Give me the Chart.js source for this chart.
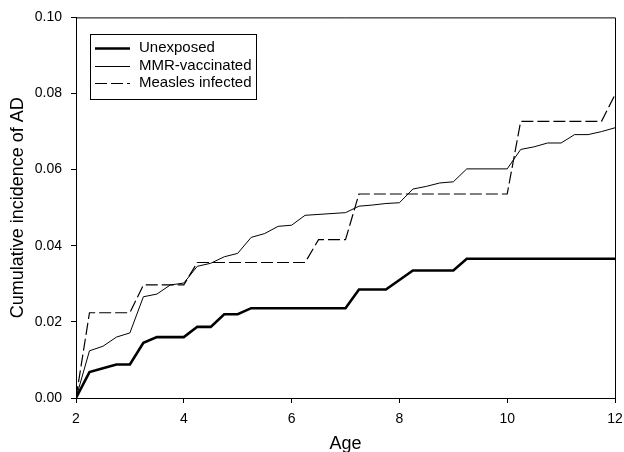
<!DOCTYPE html>
<html>
<head>
<meta charset="utf-8">
<script src="https://cdn.jsdelivr.net/npm/chart.js@4.4.0/dist/chart.umd.min.js"></script>
<style>
  html, body { margin: 0; padding: 0; background: #fff; }
  #wrap { width: 624px; height: 452px; }
</style>
</head>
<body>
<div id="wrap"><canvas id="myChart"></canvas></div>
<script>
// values (age in years, cumulative incidence)
var unexposedAge = [2, 2.25, 2.5, 2.75, 3, 3.25, 3.5, 4, 4.25, 4.5, 4.75, 5, 5.25, 7, 7.25, 7.75, 8.25, 9, 9.25, 12];
var unexposedInc = [0, 0.0068, 0.0078, 0.0088, 0.0088, 0.0145, 0.016, 0.016, 0.0187, 0.0187, 0.022, 0.022, 0.0236, 0.0236, 0.0285, 0.0285, 0.0335, 0.0335, 0.0366, 0.0366];

var mmrAge = [2, 2.25, 2.5, 2.75, 3, 3.25, 3.5, 3.75, 4, 4.25, 4.5, 4.75, 5, 5.25, 5.5, 5.75, 6, 6.25, 7, 7.25, 7.5, 7.75, 8, 8.25, 8.5, 8.75, 9, 9.25, 10, 10.25, 10.5, 10.75, 11, 11.25, 11.5, 11.75, 12];
var mmrInc = [0, 0.0124, 0.0136, 0.016, 0.0171, 0.0266, 0.0273, 0.0297, 0.0302, 0.0346, 0.0354, 0.0371, 0.038, 0.0422, 0.0432, 0.0451, 0.0454, 0.048, 0.0487, 0.0504, 0.0507, 0.0511, 0.0513, 0.0549, 0.0556, 0.0565, 0.0568, 0.0602, 0.0602, 0.0653, 0.066, 0.067, 0.067, 0.0692, 0.0692, 0.07, 0.071];

var measlesAge = [2, 2.25, 3, 3.25, 4, 4.25, 6.25, 6.5, 7, 7.25, 10, 10.25, 11.75, 12];
var measlesInc = [0, 0.0224, 0.0224, 0.0297, 0.0297, 0.0356, 0.0356, 0.0416, 0.0416, 0.0536, 0.0536, 0.0727, 0.0727, 0.0797];

var seriesNames = ["Unexposed", "MMR-vaccinated", "Measles infected"];
var yTicks = [0, 0.02, 0.04, 0.06, 0.08, 0.10];
var xTicks = [2, 4, 6, 8, 10, 12];

function pairs(xs, ys) {
  return xs.map(function (x, i) { return { x: x, y: ys[i] }; });
}

Chart.defaults.font.family = "'Liberation Sans', Arial, sans-serif";
Chart.defaults.color = "#000";

// box round the plot and the legend inside it
var framePlugin = {
  id: "frame",
  afterDatasetsDraw: function (chart) {
    var c = chart.ctx, a = chart.chartArea;
    c.save();
    c.strokeStyle = "#000";
    c.lineWidth = 1;
    c.beginPath();
    c.moveTo(a.left, a.top + 0.5);
    c.lineTo(a.right + 0.5, a.top + 0.5);
    c.lineTo(a.right + 0.5, a.bottom);
    c.stroke();

    // legend
    c.strokeRect(90.5, 34.5, 166, 65);
    var rows = [48, 66, 83];
    c.font = "15px 'Liberation Sans', Arial, sans-serif";
    c.textBaseline = "middle";
    c.fillStyle = "#000";
    chart.data.datasets.forEach(function (ds, i) {
      c.beginPath();
      c.lineWidth = ds.borderWidth;
      c.setLineDash(ds.borderDash || []);
      c.moveTo(95, rows[i] + 0.5);
      c.lineTo(130, rows[i] + 0.5);
      c.stroke();
      c.setLineDash([]);
      c.fillText(ds.label, 139, rows[i]);
    });
    c.restore();
  }
};

var ctx = document.getElementById("myChart").getContext("2d");
var myChart = new Chart(ctx, {
  type: "line",
  data: {
    datasets: [{
      label: seriesNames[0],
      data: pairs(unexposedAge, unexposedInc),
      borderColor: "#000",
      borderWidth: 2.6,
      pointRadius: 0,
      tension: 0
    }, {
      label: seriesNames[1],
      data: pairs(mmrAge, mmrInc),
      borderColor: "#000",
      borderWidth: 1,
      pointRadius: 0,
      tension: 0
    }, {
      label: seriesNames[2],
      data: pairs(measlesAge, measlesInc),
      borderColor: "#000",
      borderWidth: 1.2,
      borderDash: [12, 4],
      pointRadius: 0,
      tension: 0
    }]
  },
  options: {
    responsive: true,
    maintainAspectRatio: false,
    animation: false,
    layout: { padding: { left: 0, top: 17, right: 9, bottom: 0 } },
    plugins: {
      legend: { display: false },
      tooltip: { enabled: false }
    },
    scales: {
      x: {
        type: "linear",
        min: 2,
        max: 12,
        afterBuildTicks: function (s) { s.ticks = xTicks.map(function (v) { return { value: v }; }); },
        afterFit: function (s) { s.height = 54; s.paddingRight = 0; },
        ticks: { font: { size: 14 }, padding: 8, color: "#000" },
        grid: { drawOnChartArea: false, drawTicks: true, tickLength: 5, tickColor: "#000" },
        border: { display: true, color: "#000", width: 1 },
        title: { display: true, text: "Age", font: { size: 18, lineHeight: 0.85 }, padding: { top: 0, bottom: 0 }, color: "#000" }
      },
      y: {
        min: 0,
        max: 0.1,
        afterBuildTicks: function (s) { s.ticks = yTicks.map(function (v) { return { value: v }; }); },
        afterFit: function (s) { s.width = 76; },
        ticks: {
          font: { size: 14 },
          padding: 9,
          color: "#000",
          callback: function (v) { return Number(v).toFixed(2); }
        },
        grid: { drawOnChartArea: false, drawTicks: true, tickLength: 5, tickColor: "#000" },
        border: { display: true, color: "#000", width: 1 },
        title: { display: true, text: "Cumulative incidence of AD", font: { size: 18, lineHeight: 1 }, padding: { top: 9, bottom: 0 }, color: "#000" }
      }
    }
  },
  plugins: [framePlugin]
});
</script>
</body>
</html>
